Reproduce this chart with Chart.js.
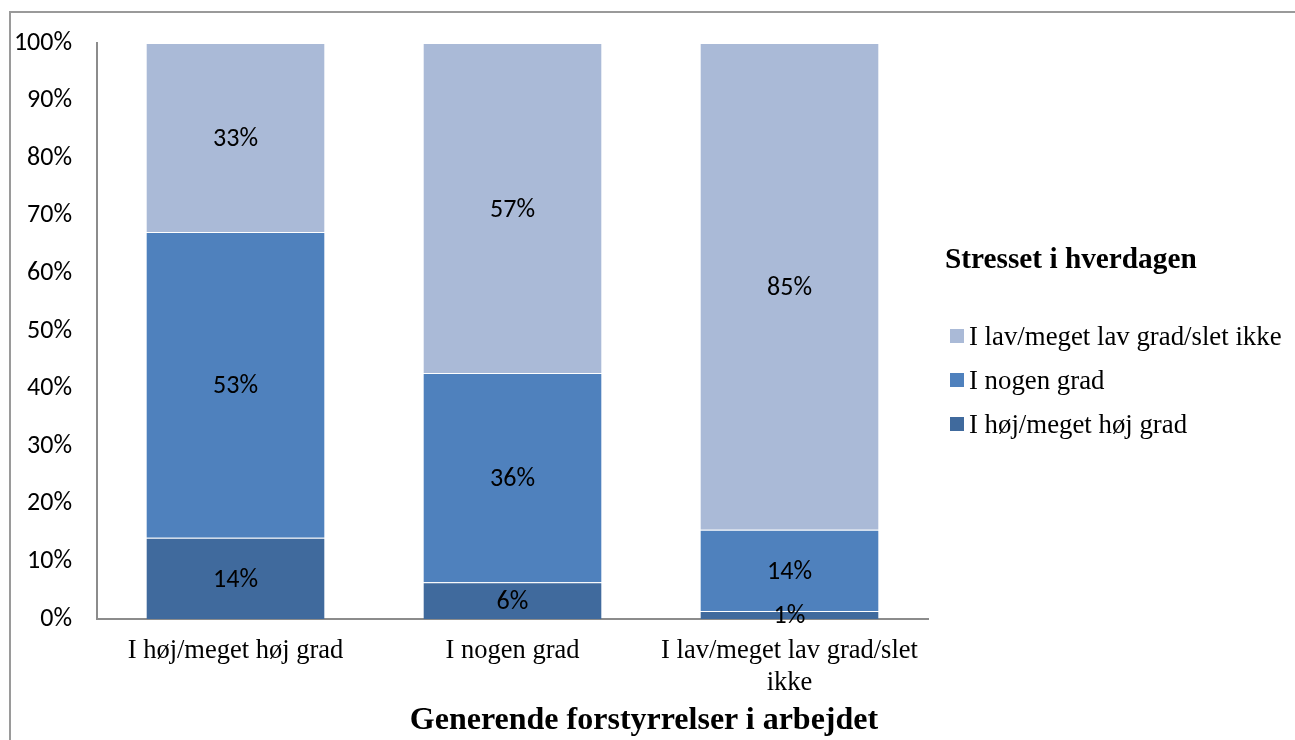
<!DOCTYPE html>
<html>
<head>
<meta charset="utf-8">
<script src="https://cdn.jsdelivr.net/npm/chart.js@4.4.1/dist/chart.umd.min.js"></script>
<style>
  body { margin: 0; overflow: hidden; background: #fff; }
  #frame { position: absolute; left: 9px; top: 11px; width: 2000px; height: 2000px;
           border-left: 2px solid #9a9a9a; border-top: 2px solid #9a9a9a; }
  #chart { position: absolute; left: 0; top: 0; }
  #legendTitle { position: absolute; left: 945px; top: 241px; font: bold 29.3px "Liberation Serif", serif; line-height: 34px; white-space: nowrap; }
  #legend { position: absolute; left: 950px; top: 314px; font: 26.8px "Liberation Serif", serif; }
  #legend .row { height: 44px; display: flex; align-items: center; white-space: nowrap; }
  #legend .sw { width: 14px; height: 14px; margin-right: 5px; }
  #xTitle { position: absolute; left: 0; width: 1288px; top: 699px; text-align: center;
            font: bold 32px "Liberation Serif", serif; line-height: 38px; }
</style>
</head>
<body>
<div id="frame"></div>
<canvas id="chart" width="1295" height="740"></canvas>
<div id="legendTitle">Stresset i hverdagen</div>
<div id="legend"></div>
<div id="xTitle">Generende forstyrrelser i arbejdet</div>
<script>
// --- Data ---
const categories = ['I høj/meget høj grad', 'I nogen grad', ['I lav/meget lav grad/slet', 'ikke']];
const seriesNames = ['I høj/meget høj grad', 'I nogen grad', 'I lav/meget lav grad/slet ikke'];
const highValues = [14.1, 6.4, 1.4];
const someValues = [53.1, 36.3, 14.1];
const lowValues = [32.8, 57.3, 84.5];
const yTicks = [0, 10, 20, 30, 40, 50, 60, 70, 80, 90, 100];

const colors = ['#406a9d', '#4f81bd', '#aabad7'];
const tickFont = { family: "Carlito, Lato, sans-serif", size: 26 };
const serifFont = { family: "'Liberation Serif', 'Times New Roman', serif", size: 26.5, lineHeight: 1.2 };

// value labels centred in each segment
const segmentLabels = {
    id: 'segmentLabels',
    afterDatasetsDraw(chart) {
        const ctx = chart.ctx;
        ctx.save();
        ctx.font = tickFont.size + 'px ' + tickFont.family;
        ctx.fillStyle = '#000';
        ctx.textAlign = 'center';
        ctx.textBaseline = 'middle';
        chart.data.datasets.forEach((ds, i) => {
            chart.getDatasetMeta(i).data.forEach((bar, j) => {
                const p = bar.getCenterPoint();
                ctx.fillText(Math.round(ds.data[j]) + '%', p.x, p.y + 2);
            });
        });
        ctx.restore();
    }
};

const datasets = [highValues, someValues, lowValues].map((vals, i) => ({
    label: seriesNames[i],
    data: vals,
    backgroundColor: colors[i],
    borderColor: 'rgba(255,255,255,0.45)',
    borderWidth: { top: 1, left: 0, right: 0, bottom: 0 },
    borderSkipped: false,
    barPercentage: 0.643,
    categoryPercentage: 1
}));

new Chart(document.getElementById('chart'), {
    type: 'bar',
    data: { labels: categories, datasets: datasets },
    options: {
        responsive: false,
        animation: false,
        layout: { padding: { top: 43, right: 367, bottom: 41, left: 0 } },
        plugins: { legend: { display: false }, tooltip: { enabled: false } },
        scales: {
            x: {
                stacked: true,
                grid: { display: false, drawTicks: false },
                border: { color: '#8c8c8c', width: 2 },
                ticks: { font: serifFont, color: '#000', padding: 16, maxRotation: 0, autoSkip: false },
                afterFit: s => { s.height = 80; }
            },
            y: {
                stacked: true,
                min: 0,
                max: 100,
                grid: { display: false, drawTicks: false },
                border: { color: '#8c8c8c', width: 2 },
                afterBuildTicks: s => { s.ticks = yTicks.map(v => ({ value: v })); },
                ticks: { font: tickFont, color: '#000', padding: 25, callback: v => v + '%' },
                afterFit: s => { s.width = 97; }
            }
        }
    },
    plugins: [segmentLabels]
});

// --- Legend (top series first) ---
const legend = document.getElementById('legend');
for (let i = seriesNames.length - 1; i >= 0; i--) {
    const row = document.createElement('div');
    row.className = 'row';
    row.innerHTML = '<span class="sw" style="background:' + colors[i] + '"></span><span>' + seriesNames[i] + '</span>';
    legend.appendChild(row);
}
</script>
</body>
</html>
